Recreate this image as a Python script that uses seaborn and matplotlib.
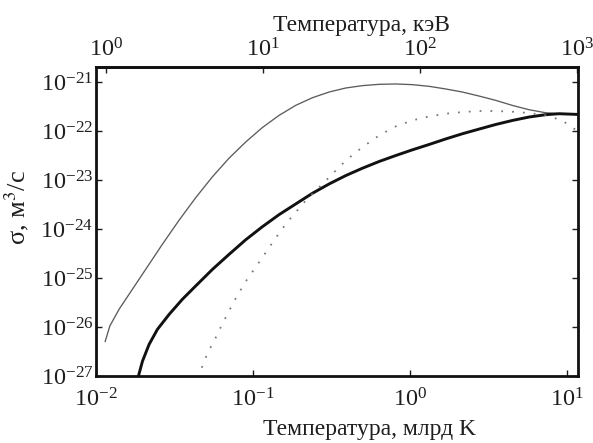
import numpy as np
import pandas as pd
import matplotlib
matplotlib.use("Agg")
import matplotlib.pyplot as plt
import seaborn as sns
from matplotlib.ticker import FixedLocator, NullLocator, LogFormatterSciNotation

# ---- data (log10 values) ----
# temperature in billions of K (log10) and reactivity in m^3/s (log10)
thin_logT = [-1.942, -1.912, -1.853, -1.789, -1.683, -1.577, -1.471, -1.365, -1.259,
             -1.153, -1.047, -0.941, -0.835, -0.729, -0.622, -0.516, -0.410, -0.304,
             -0.198, -0.092, 0.014, 0.120, 0.226, 0.332, 0.438, 0.544, 0.650, 0.756,
             0.862, 0.947, 1.064]
thin_logS = [-26.300, -25.980, -25.638, -25.330, -24.820, -24.310, -23.820, -23.360, -22.935,
             -22.555, -22.225, -21.930, -21.682, -21.478, -21.321, -21.205, -21.123, -21.075,
             -21.048, -21.041, -21.055, -21.089, -21.143, -21.205, -21.287, -21.375, -21.478,
             -21.566, -21.628, -21.648, -21.662]

thick_logT = [-1.730, -1.704, -1.662, -1.609, -1.534, -1.450, -1.365, -1.259, -1.153,
              -1.047, -0.941, -0.835, -0.729, -0.622, -0.516, -0.410, -0.304, -0.198,
              -0.092, 0.014, 0.120, 0.226, 0.332, 0.438, 0.544, 0.650, 0.756, 0.862,
              0.947, 1.064]
thick_logS = [-27.003, -26.696, -26.355, -26.048, -25.741, -25.434, -25.161, -24.825, -24.518,
              -24.220, -23.954, -23.708, -23.490, -23.271, -23.081, -22.910, -22.760, -22.623,
              -22.501, -22.385, -22.276, -22.163, -22.057, -21.962, -21.868, -21.786, -21.716,
              -21.668, -21.648, -21.662]

dot_logT = [-1.327, -1.291, -1.238, -1.195, -1.153, -1.110, -1.047, -0.983, -0.919,
            -0.856, -0.792, -0.729, -0.665, -0.516, -0.410, -0.304, -0.198, -0.092,
            0.014, 0.120, 0.226, 0.332, 0.438, 0.544, 0.650, 0.756, 0.862, 0.968, 1.032, 1.064]
dot_logS = [-26.832, -26.540, -26.218, -25.930, -25.673, -25.413, -25.070, -24.776, -24.479,
            -24.182, -23.899, -23.660, -23.421, -22.944, -22.603, -22.330, -22.091, -21.907,
            -21.784, -21.703, -21.648, -21.614, -21.593, -21.593, -21.607, -21.634, -21.682,
            -21.784, -21.935, -21.990]

x_ticks = [1e-2, 1e-1, 1e0, 1e1]
y_ticks = [1e-27, 1e-26, 1e-25, 1e-24, 1e-23, 1e-22, 1e-21]
top_ticks = [1e0, 1e1, 1e2, 1e3]
KEV_PER_BK = 1.0 / 0.0116045  # keV per billion K

xlabel_bottom = "Температура, млрд K"
xlabel_top = "Температура, кэВ"
ylabel = "σ, м$^3$/с"

# ---- style ----
sns.set_style("ticks")
plt.rcParams["font.family"] = ["Liberation Serif", "DejaVu Serif"]
plt.rcParams["mathtext.fontset"] = "stix"

INK = "#1e1e1e"
fig = plt.figure(figsize=(5.93, 4.43), dpi=100)
ax = fig.add_axes([96 / 593, 1 - 376 / 443, 482 / 593, 309 / 443])

def frame(lt, ls):
    return pd.DataFrame({"T": 10 ** np.array(lt), "S": 10 ** np.array(ls)})

sns.lineplot(data=frame(thin_logT, thin_logS), x="T", y="S", ax=ax,
             color="#5c5c5c", linewidth=0.95, sort=False)
sns.lineplot(data=frame(thick_logT, thick_logS), x="T", y="S", ax=ax,
             color="#111111", linewidth=2.1, sort=False)
sns.lineplot(data=frame(dot_logT, dot_logS), x="T", y="S", ax=ax,
             color="#7a7a7a", linewidth=1.3, linestyle=(0, (1, 5)), sort=False)

ax.set_xscale("log")
ax.set_yscale("log")
ax.set_xlim(0.01, 11.7)
ax.set_ylim(1e-27, 2.02e-21)

ax.xaxis.set_major_locator(FixedLocator(x_ticks))
ax.yaxis.set_major_locator(FixedLocator(y_ticks))
ax.xaxis.set_major_formatter(LogFormatterSciNotation())
ax.yaxis.set_major_formatter(LogFormatterSciNotation())
ax.xaxis.set_minor_locator(NullLocator())
ax.yaxis.set_minor_locator(NullLocator())

for s in ax.spines.values():
    s.set_linewidth(2.0)
    s.set_color("#111111")
    s.set_visible(True)

ax.tick_params(axis="both", which="major", direction="in", length=4, width=1.0,
               labelsize=17.5, color=INK, labelcolor=INK)
ax.tick_params(axis="y", right=True, pad=2)
ax.tick_params(axis="x", top=False, pad=9)

ax.set_xlabel(xlabel_bottom, fontsize=17, color=INK)
ax.xaxis.set_label_coords(0.568, -0.140, transform=ax.transAxes)
ax.set_ylabel(ylabel, fontsize=19, color=INK)
ax.yaxis.set_label_coords(-0.135, 0.547, transform=ax.transAxes)

sec = ax.secondary_xaxis("top", functions=(lambda t: t * KEV_PER_BK, lambda e: e / KEV_PER_BK))
sec.set_xscale("log")
sec.xaxis.set_major_locator(FixedLocator(top_ticks))
sec.xaxis.set_minor_locator(NullLocator())
sec.xaxis.set_major_formatter(LogFormatterSciNotation())
sec.tick_params(axis="x", direction="in", length=4, width=1.0, labelsize=17.5, pad=4,
                color=INK, labelcolor=INK)
sec.spines["top"].set_linewidth(2.0)
sec.set_xlabel(xlabel_top, fontsize=17, color=INK)
sec.xaxis.set_label_coords(0.550, 1.115, transform=ax.transAxes)

ax.grid(False)
fig.savefig("out.png", dpi=100, facecolor="white")
